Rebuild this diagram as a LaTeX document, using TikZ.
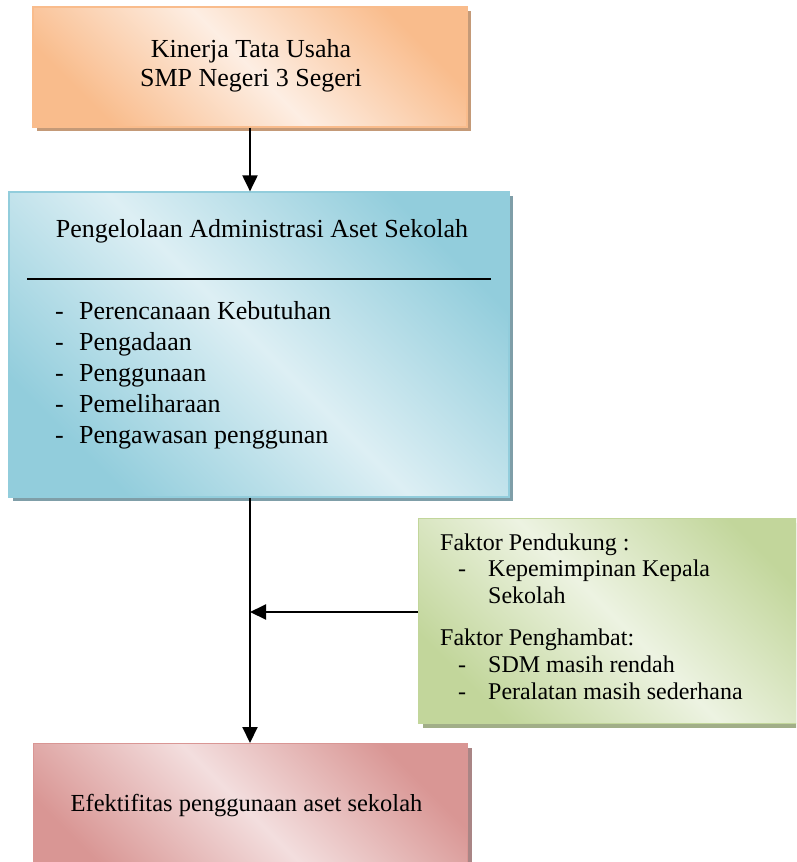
\documentclass[tikz,border=0pt]{standalone}
\usepackage{fontspec}
\setmainfont{Liberation Serif}
\usetikzlibrary{arrows.meta,calc,shadows}
\definecolor{ordark}{HTML}{F9BC8C}
\definecolor{orlight}{HTML}{FDEEE3}
\definecolor{orshadow}{HTML}{C49A78}
\definecolor{bldark}{HTML}{92CDDC}
\definecolor{bllight}{HTML}{DDEFF4}
\definecolor{blshadow}{HTML}{7F9EA8}
\definecolor{grdark}{HTML}{C2D69B}
\definecolor{grlight}{HTML}{EDF3E2}
\definecolor{grshadow}{HTML}{A1AE88}
\definecolor{pkdark}{HTML}{D99694}
\definecolor{pklight}{HTML}{F3DEDE}
\definecolor{pkshadow}{HTML}{A98585}
\begin{document}
\begin{tikzpicture}[x=1pt,y=-1pt,
  box/.style n args={3}{draw=#1,line width=1.2pt,left color=#1,right color=#1,middle color=#2,shading angle=-45,
     drop shadow={shadow xshift=4pt,shadow yshift=-4pt,fill=#3,opacity=1},inner sep=0pt},
  txt/.style={inner sep=0pt,anchor=base west},
  conn/.style={line width=2pt,-{Triangle[length=16pt,width=15pt]}}]
\useasboundingbox (0,0) rectangle (796,862);
\begin{scope}
\clip (0,0) rectangle (796,862);
% boxes
\node[box={ordark}{orlight}{orshadow},minimum width=434pt,minimum height=120pt] (top) at (250,67) {};
\node[box={bldark}{bllight}{blshadow},minimum width=500pt,minimum height=305pt] (mid) at (259,344.5) {};
\node[box={grdark}{grlight}{grshadow},minimum width=400pt,minimum height=205pt,anchor=north west] (fac) at (418,518) {};
\node[box={pkdark}{pklight}{pkshadow},minimum width=434pt,minimum height=140pt,anchor=north west] (bot) at (33,743) {};
% top text
\node[inner sep=0pt,align=center,font=\fontsize{26}{29}\selectfont,anchor=base] (toptxt) at (251,86) {Kinerja Tata Usaha\\SMP Negeri 3 Segeri};
% middle text
\node[inner sep=0pt,anchor=base,font=\fontsize{26}{31}\selectfont] (midtitle) at (262,237) {Pengelolaan Administrasi Aset Sekolah};
\draw[line width=1.2pt] (27,279) -- (491,279);
\begin{scope}[every node/.style={txt,font=\fontsize{26}{31}\selectfont}]
\node (m1) at (55,319) {\makebox[24pt][l]{-}Perencanaan Kebutuhan};
\node (m2) at (55,350) {\makebox[24pt][l]{-}Pengadaan};
\node (m3) at (55,381) {\makebox[24pt][l]{-}Penggunaan};
\node (m4) at (55,412) {\makebox[24pt][l]{-}Pemeliharaan};
\node (m5) at (55,443) {\makebox[24pt][l]{-}Pengawasan penggunan};
\end{scope}
% factor text
\begin{scope}[every node/.style={txt,font=\fontsize{24}{28}\selectfont}]
\node (f1) at (440,550) {Faktor Pendukung :};
\node (f2) at (458,576) {\makebox[30pt][l]{-}Kepemimpinan Kepala};
\node (f3) at (488,603) {Sekolah};
\node (f4) at (440,645) {Faktor Penghambat:};
\node (f5) at (458,672) {\makebox[30pt][l]{-}SDM masih rendah};
\node (f6) at (458,699) {\makebox[30pt][l]{-}Peralatan masih sederhana};
\end{scope}
% bottom text
\node[inner sep=0pt,anchor=base,font=\fontsize{24.5}{29}\selectfont] (bottxt) at (246.5,811) {Efektifitas penggunaan aset sekolah};
% connectors
\coordinate (j) at (250,612);
\draw[conn] (top.south) -- (top.south |- mid.north);
\draw[line width=2pt] (top.south |- mid.south) -- (j);
\draw[conn] (j) -- (bot.north -| j);
\draw[conn] (fac.west |- j) -- (j);
\end{scope}
\end{tikzpicture}
\end{document}
